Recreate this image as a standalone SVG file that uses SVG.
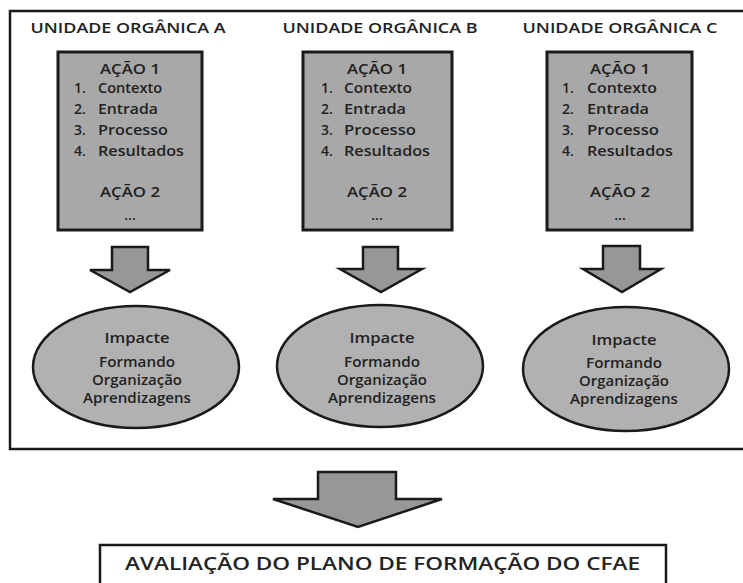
<svg xmlns="http://www.w3.org/2000/svg" width="743" height="583" viewBox="0 0 743 583">
<style>
  text { font-family: "Open Sans", "Liberation Sans", sans-serif; font-weight: 700; fill: #222222; }
  .title { font-size: 14.5px; text-anchor: middle; font-weight: 600; }
  .act { font-size: 14px; font-weight: 600; }
  .mid { text-anchor: middle; }
  .ell { font-size: 13.5px; text-anchor: middle; font-weight: 600; }
  .big { font-size: 18px; text-anchor: middle; font-weight: 600; }
  .box { fill: #a8a8a8; stroke: #1a1a1a; stroke-width: 3; }
  .arrow { fill: #979797; stroke: #1a1a1a; stroke-width: 2.5; stroke-linejoin: miter; }
  .oval { fill: #b1b1b1; stroke: #1a1a1a; stroke-width: 2.5; }
  .frame { fill: none; stroke: #1a1a1a; stroke-width: 2.5; }
</style>
<rect width="743" height="583" fill="#ffffff"/>
<rect id="frame" class="frame" x="10" y="11" width="740" height="438"/>

<g id="unit-a">
  <text class="title" x="128" y="33" textLength="195" lengthAdjust="spacingAndGlyphs">UNIDADE ORGÂNICA A</text>
  <rect class="box" x="58" y="52" width="144" height="178"/>
  <text class="act mid" x="130" y="74" textLength="60" lengthAdjust="spacingAndGlyphs">AÇÃO 1</text>
  <text class="act" x="74" y="93">1.</text><text class="act" x="98" y="93" textLength="64" lengthAdjust="spacingAndGlyphs">Contexto</text>
  <text class="act" x="74" y="114">2.</text><text class="act" x="98" y="114" textLength="60" lengthAdjust="spacingAndGlyphs">Entrada</text>
  <text class="act" x="74" y="135">3.</text><text class="act" x="98" y="135" textLength="70" lengthAdjust="spacingAndGlyphs">Processo</text>
  <text class="act" x="74" y="156">4.</text><text class="act" x="98" y="156" textLength="86" lengthAdjust="spacingAndGlyphs">Resultados</text>
  <text class="act mid" x="130" y="197" textLength="60" lengthAdjust="spacingAndGlyphs">AÇÃO 2</text>
  <text class="act mid" x="130" y="220">...</text>
</g>

<g id="unit-b">
  <text class="title" x="380" y="33" textLength="195" lengthAdjust="spacingAndGlyphs">UNIDADE ORGÂNICA B</text>
  <rect class="box" x="303" y="52" width="149" height="178"/>
  <text class="act mid" x="377" y="74" textLength="60" lengthAdjust="spacingAndGlyphs">AÇÃO 1</text>
  <text class="act" x="321" y="93">1.</text><text class="act" x="344" y="93" textLength="68" lengthAdjust="spacingAndGlyphs">Contexto</text>
  <text class="act" x="321" y="114">2.</text><text class="act" x="344" y="114" textLength="62" lengthAdjust="spacingAndGlyphs">Entrada</text>
  <text class="act" x="321" y="135">3.</text><text class="act" x="344" y="135" textLength="72" lengthAdjust="spacingAndGlyphs">Processo</text>
  <text class="act" x="321" y="156">4.</text><text class="act" x="344" y="156" textLength="86" lengthAdjust="spacingAndGlyphs">Resultados</text>
  <text class="act mid" x="377" y="197" textLength="60" lengthAdjust="spacingAndGlyphs">AÇÃO 2</text>
  <text class="act mid" x="377" y="220">...</text>
</g>

<g id="unit-c">
  <text class="title" x="620" y="33" textLength="195" lengthAdjust="spacingAndGlyphs">UNIDADE ORGÂNICA C</text>
  <rect class="box" x="547" y="52" width="145" height="178"/>
  <text class="act mid" x="620" y="74" textLength="60" lengthAdjust="spacingAndGlyphs">AÇÃO 1</text>
  <text class="act" x="562" y="93">1.</text><text class="act" x="587" y="93" textLength="70" lengthAdjust="spacingAndGlyphs">Contexto</text>
  <text class="act" x="562" y="114">2.</text><text class="act" x="587" y="114" textLength="62" lengthAdjust="spacingAndGlyphs">Entrada</text>
  <text class="act" x="562" y="135">3.</text><text class="act" x="587" y="135" textLength="72" lengthAdjust="spacingAndGlyphs">Processo</text>
  <text class="act" x="562" y="156">4.</text><text class="act" x="587" y="156" textLength="86" lengthAdjust="spacingAndGlyphs">Resultados</text>
  <text class="act mid" x="620" y="197" textLength="60" lengthAdjust="spacingAndGlyphs">AÇÃO 2</text>
  <text class="act mid" x="620" y="220">...</text>
</g>

<g id="connectors">
  <polygon class="arrow" points="112,247 148,247 148,270 170,270 130,292 90,270 112,270"/>
  <polygon class="arrow" points="363,247 398,247 398,269 422,269 381,292 340,269 363,269"/>
  <polygon class="arrow" points="603,246 640,246 640,269 661,269 622,292 583,269 603,269"/>
  <polygon class="arrow" points="318,472 396,472 396,499 442,499 358,527 273,499 318,499"/>
</g>

<g id="impact-a">
  <ellipse class="oval" cx="136" cy="367" rx="103" ry="61"/>
  <text class="ell" x="137" y="343" textLength="65" lengthAdjust="spacingAndGlyphs">Impacte</text>
  <text class="ell" x="137" y="367" textLength="76" lengthAdjust="spacingAndGlyphs">Formando</text>
  <text class="ell" x="137" y="385" textLength="90" lengthAdjust="spacingAndGlyphs">Organização</text>
  <text class="ell" x="137" y="403" textLength="108" lengthAdjust="spacingAndGlyphs">Aprendizagens</text>
</g>

<g id="impact-b">
  <ellipse class="oval" cx="380" cy="366" rx="103" ry="61"/>
  <text class="ell" x="382" y="343" textLength="65" lengthAdjust="spacingAndGlyphs">Impacte</text>
  <text class="ell" x="382" y="367" textLength="76" lengthAdjust="spacingAndGlyphs">Formando</text>
  <text class="ell" x="382" y="385" textLength="90" lengthAdjust="spacingAndGlyphs">Organização</text>
  <text class="ell" x="382" y="403" textLength="108" lengthAdjust="spacingAndGlyphs">Aprendizagens</text>
</g>

<g id="impact-c">
  <ellipse class="oval" cx="626" cy="369" rx="103" ry="62"/>
  <text class="ell" x="624" y="345" textLength="65" lengthAdjust="spacingAndGlyphs">Impacte</text>
  <text class="ell" x="624" y="368" textLength="76" lengthAdjust="spacingAndGlyphs">Formando</text>
  <text class="ell" x="624" y="386" textLength="90" lengthAdjust="spacingAndGlyphs">Organização</text>
  <text class="ell" x="624" y="404" textLength="108" lengthAdjust="spacingAndGlyphs">Aprendizagens</text>
</g>

<g id="evaluation">
  <rect class="frame" x="100" y="545" width="566" height="50" stroke-width="3"/>
  <text class="big" x="382.5" y="570" textLength="515" lengthAdjust="spacingAndGlyphs">AVALIAÇÃO DO PLANO DE FORMAÇÃO DO CFAE</text>
</g>
</svg>
